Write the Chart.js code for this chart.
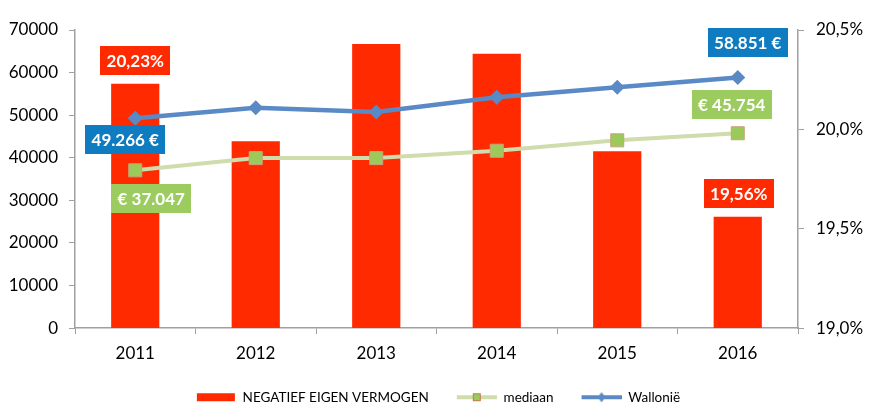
<!DOCTYPE html>
<html>
<head>
<meta charset="utf-8">
<script src="https://cdn.jsdelivr.net/npm/chart.js@4/dist/chart.umd.min.js"></script>
<style>
  html, body { margin: 0; padding: 0; background: #fff; }
  #wrap { width: 876px; height: 410px; position: relative; }
</style>
</head>
<body>
<div id="wrap"><canvas id="chart"></canvas></div>
<script>
// data
const years = ["2011", "2012", "2013", "2014", "2015", "2016"];
const negatiefEigenVermogen = [20.23, 19.94, 20.43, 20.38, 19.89, 19.56]; // % (right axis)
const mediaan = [37047, 39930, 39930, 41650, 44090, 45754];
const wallonie = [49266, 51750, 50740, 54190, 56540, 58851];

const RED = "#ff2a00";
const BLUE_LINE = "#5a8ac6";
const GREEN_LINE = "#cfdcab";
const GREEN_MARK = "#9bc95a";
const BLUE_BOX = "#0f7cc1";
const GREEN_BOX = "#9ccb60";
const AXIS = "#a0a0a0";

const fmtPct = (v) => v.toFixed(2).replace(".", ",") + "%";
const fmtEur = (v) => v.toLocaleString("nl-BE");

// which points get a value box, and where the box sits relative to the point
const valueLabels = [
  { ds: 0, idx: 0, text: fmtPct(negatiefEigenVermogen[0]), bg: RED, dx: 0, dy: -23 },
  { ds: 0, idx: 5, text: fmtPct(negatiefEigenVermogen[5]), bg: RED, dx: 1, dy: -23 },
  { ds: 2, idx: 0, text: fmtEur(wallonie[0]) + " €", bg: BLUE_BOX, dx: -10, dy: 21 },
  { ds: 2, idx: 5, text: fmtEur(wallonie[5]) + " €", bg: BLUE_BOX, dx: 10, dy: -35 },
  { ds: 1, idx: 0, text: "€ " + fmtEur(mediaan[0]), bg: GREEN_BOX, dx: 16, dy: 28 },
  { ds: 1, idx: 5, text: "€ " + fmtEur(mediaan[5]), bg: GREEN_BOX, dx: -6, dy: -29 },
];

// small legend glyphs (blank strip on the left gives the gap between items)
function legendGlyph(kind) {
  const c = document.createElement("canvas");
  c.width = 58; c.height = 16;
  const g = c.getContext("2d");
  const x0 = 18, w = 40, cy = 8;
  if (kind === "bar") {
    g.fillStyle = RED;
    g.fillRect(x0 + 1, cy - 4, 38, 8);
  } else if (kind === "mediaan") {
    g.strokeStyle = GREEN_LINE; g.lineWidth = 4;
    g.beginPath(); g.moveTo(x0, cy); g.lineTo(x0 + w, cy); g.stroke();
    g.fillStyle = GREEN_MARK; g.fillRect(x0 + w / 2 - 4, cy - 4, 8, 8);
    g.strokeStyle = "#c07a55"; g.lineWidth = 1;
    g.strokeRect(x0 + w / 2 - 4 + 0.5, cy - 4 + 0.5, 7, 7);
  } else {
    g.strokeStyle = BLUE_LINE; g.lineWidth = 4;
    g.beginPath(); g.moveTo(x0, cy); g.lineTo(x0 + w, cy); g.stroke();
    g.fillStyle = BLUE_LINE;
    g.beginPath();
    g.moveTo(x0 + w / 2, cy - 5); g.lineTo(x0 + w / 2 + 4, cy);
    g.lineTo(x0 + w / 2, cy + 5); g.lineTo(x0 + w / 2 - 4, cy);
    g.closePath(); g.fill();
  }
  return c;
}
const glyphs = [legendGlyph("bar"), legendGlyph("mediaan"), legendGlyph("wallonie")];

// nudge the legend a bit left/down (the blank strip of the first glyph pushes it right)
const legendNudge = {
  id: "legendNudge",
  afterUpdate(chart) {
    const lg = chart.legend;
    if (!lg) return;
    lg.left -= 9; lg.right -= 9;
    lg.top += 4; lg.bottom += 4;
  }
};

const valueBoxes = {
  id: "valueBoxes",
  afterDatasetsDraw(chart) {
    const ctx = chart.ctx;
    ctx.save();
    ctx.font = "bold 17px Lato";
    ctx.textAlign = "center";
    ctx.textBaseline = "middle";
    valueLabels.forEach((l) => {
      const el = chart.getDatasetMeta(l.ds).data[l.idx];
      const cx = el.x + l.dx, cy = el.y + l.dy;
      const w = ctx.measureText(l.text).width + 13, h = 29;
      ctx.fillStyle = l.bg;
      ctx.fillRect(Math.round(cx - w / 2), Math.round(cy - h / 2), Math.round(w), h);
      ctx.fillStyle = "#fff";
      ctx.fillText(l.text, cx, cy + 1);
    });
    ctx.restore();
  }
};

new Chart(document.getElementById("chart"), {
  type: "bar",
  data: {
    labels: years,
    datasets: [
      {
        type: "bar",
        label: "NEGATIEF EIGEN VERMOGEN",
        data: negatiefEigenVermogen,
        yAxisID: "y1",
        backgroundColor: RED,
        barPercentage: 0.4,
        categoryPercentage: 1,
        order: 3,
      },
      {
        type: "line",
        label: "mediaan",
        data: mediaan,
        yAxisID: "y",
        borderColor: GREEN_LINE,
        borderWidth: 4,
        pointStyle: "rect",
        pointRadius: 9.2,
        pointBackgroundColor: GREEN_MARK,
        pointBorderColor: "#c9a27a",
        pointBorderWidth: 1,
        tension: 0,
        order: 2,
      },
      {
        type: "line",
        label: "Wallonië",
        data: wallonie,
        yAxisID: "y",
        borderColor: BLUE_LINE,
        borderWidth: 4.5,
        pointStyle: "rectRot",
        pointRadius: 7.5,
        pointBackgroundColor: BLUE_LINE,
        pointBorderColor: BLUE_LINE,
        pointBorderWidth: 0,
        tension: 0,
        order: 1,
      },
    ],
  },
  options: {
    responsive: true,
    maintainAspectRatio: false,
    animation: false,
    layout: { padding: { top: 30, left: 0, right: 0, bottom: 0 } },
    plugins: {
      tooltip: { enabled: false },
      legend: {
        position: "bottom",
        labels: {
          color: "#000",
          font: { family: "Lato", size: 13.5 },
          usePointStyle: true,
          pointStyleWidth: 58,
          padding: 10,
          generateLabels(chart) {
            const items = Chart.defaults.plugins.legend.labels.generateLabels(chart);
            items.sort((a, b) => a.datasetIndex - b.datasetIndex);
            items.forEach((it) => { it.pointStyle = glyphs[it.datasetIndex]; });
            return items;
          },
        },
      },
    },
    scales: {
      x: {
        offset: true,
        grid: { display: true, drawOnChartArea: false, offset: true, color: AXIS, tickLength: 6 },
        border: { display: true, color: AXIS, width: 1.5 },
        ticks: { color: "#000", font: { family: "Lato", size: 17 }, padding: 9 },
        afterFit(scale) { scale.height += 4; },
      },
      y: {
        position: "left",
        min: 0,
        max: 70000,
        grid: { display: true, drawOnChartArea: false, color: AXIS, tickLength: 6 },
        border: { display: true, color: AXIS, width: 1.5 },
        ticks: {
          stepSize: 10000,
          color: "#000",
          font: { family: "Lato", size: 17 },
          padding: 11,
          callback: (v) => String(v),
        },
        afterFit(scale) { scale.width = 75; },
      },
      y1: {
        position: "right",
        min: 19.0,
        max: 20.5,
        grid: { display: true, drawOnChartArea: false, color: AXIS, tickLength: 6 },
        border: { display: true, color: AXIS, width: 1.5 },
        ticks: {
          stepSize: 0.5,
          color: "#000",
          font: { family: "Lato", size: 17 },
          padding: 12,
          callback: (v) => v.toFixed(1).replace(".", ",") + "%",
        },
        afterFit(scale) { scale.width = 78; },
      },
    },
  },
  plugins: [legendNudge, valueBoxes],
});
</script>
</body>
</html>
